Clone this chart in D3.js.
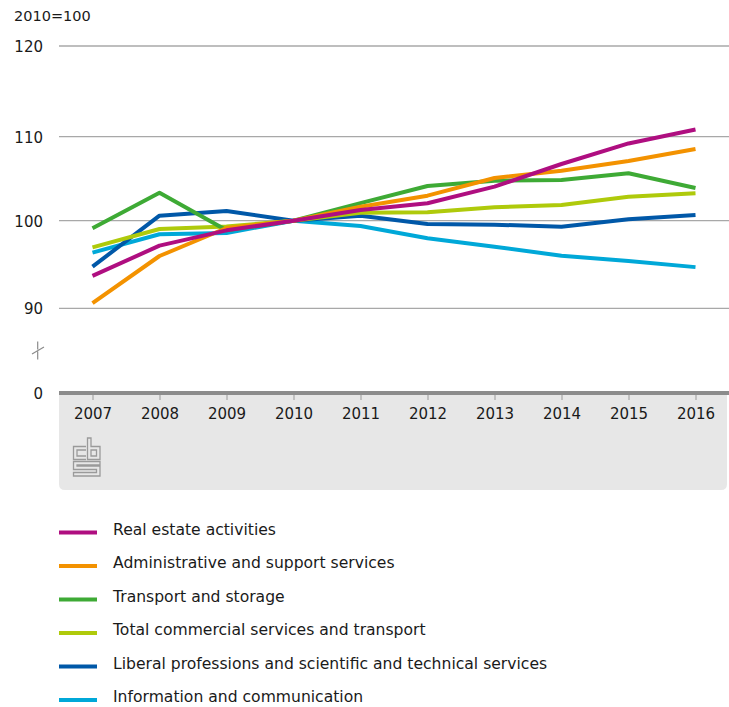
<!DOCTYPE html>
<html lang="en">
<head>
<meta charset="utf-8">
<title>Index 2010=100</title>
<script src="https://d3js.org/d3.v7.min.js"></script>
<style>
  body { margin: 0; background: #fff; }
  text { font-family: 'DejaVu Sans', sans-serif; fill: #1a1a1a; }
</style>
</head>
<body>
<script>
// years on the x axis
var years = ["2007", "2008", "2009", "2010", "2011", "2012", "2013", "2014", "2015", "2016"];
var yTicks = [0, 90, 100, 110, 120];

var seriesNames = [
  "Real estate activities",
  "Administrative and support services",
  "Transport and storage",
  "Total commercial services and transport",
  "Liberal professions and scientific and technical services",
  "Information and communication"
];
var seriesColors = ["#af0e80", "#f39200", "#3eaa35", "#afca0b", "#0058a8", "#00a8d8"];

var realEstate = [93.7, 97.15, 98.9, 100, 101.27, 102.07, 104.05, 106.75, 109.2, 110.8];
var adminSupport = [90.6, 95.97, 99.17, 100, 101.67, 102.98, 105.08, 105.95, 107.1, 108.54];
var transport = [99.13, 103.33, 98.9, 100, 102.1, 104.13, 104.76, 104.85, 105.64, 103.9];
var totalCommercial = [96.96, 99.05, 99.35, 100, 100.95, 101.0, 101.6, 101.87, 102.86, 103.26];
var liberalProf = [94.75, 100.6, 101.15, 100, 100.6, 99.62, 99.54, 99.32, 100.17, 100.68];
var infoComm = [96.35, 98.45, 98.6, 100, 99.4, 97.99, 97.03, 96.0, 95.4, 94.7];

var allSeries = [realEstate, adminSupport, transport, totalCommercial, liberalProf, infoComm];

var w = 729, h = 707;
var left = 59, right = 729;

var svg = d3.select("body").append("svg")
  .attr("width", w)
  .attr("height", h);

var x = d3.scalePoint()
  .domain(years)
  .range([left, right])
  .padding(0.5);

// broken axis: 0 sits just below 90
var y = d3.scaleLinear()
  .domain([0, 90, 100, 110, 120])
  .range([393, 308.3, 220.7, 136.7, 46]);

// grey panel under the x axis
svg.append("path")
  .attr("d", "M" + left + ",393 H" + (right - 2) + " V484 q0,6 -6,6 H" + (left + 6) + " q-6,0 -6,-6 Z")
  .attr("fill", "#e7e7e7");

// gridlines
svg.append("g")
  .selectAll("line")
  .data(yTicks.filter(function(d) { return d > 0; }))
  .join("line")
  .attr("x1", left)
  .attr("x2", right)
  .attr("y1", function(d) { return y(d); })
  .attr("y2", function(d) { return y(d); })
  .attr("stroke", "#a8a8a8")
  .attr("stroke-width", 1.3);

// y labels
svg.append("g")
  .selectAll("text")
  .data(yTicks)
  .join("text")
  .attr("x", 43)
  .attr("y", function(d) { return y(d) + 6; })
  .attr("text-anchor", "end")
  .attr("font-size", "15px")
  .text(function(d) { return d; });

svg.append("text")
  .attr("x", 14)
  .attr("y", 21)
  .attr("font-size", "14.5px")
  .text("2010=100");

// axis break mark
svg.append("path")
  .attr("d", "M37.7,341.5 V349.5 M32,354 L44,347 M37.7,351.5 V359.5")
  .attr("stroke", "#8c8c8c")
  .attr("stroke-width", 1.2)
  .attr("fill", "none");

// x axis
var xAxis = d3.axisBottom(x).tickSize(7).tickPadding(8);
var gx = svg.append("g")
  .attr("transform", "translate(0,393)")
  .call(xAxis);
gx.select(".domain").remove();
gx.selectAll(".tick line").attr("stroke", "#999").attr("stroke-width", 1);
gx.selectAll(".tick text")
  .attr("font-size", "15px")
  .attr("font-family", "'DejaVu Sans', sans-serif")
  .attr("fill", "#1a1a1a");

svg.append("line")
  .attr("x1", left)
  .attr("x2", right)
  .attr("y1", y(0))
  .attr("y2", y(0))
  .attr("stroke", "#8c8c8c")
  .attr("stroke-width", 4);

// logo
var logo = svg.append("g")
  .attr("fill", "none")
  .attr("stroke", "#9a9a9a")
  .attr("stroke-width", 1.3);
logo.append("path").attr("d", "M86,446.5 H73.5 V459.5 H86 M86,450 H77 V456 H86");
logo.append("path").attr("d", "M87.5,438 V459.5 H100 V446.5 H91 V438 Z M91,450 H96.5 V456 H91 Z");
logo.append("path").attr("d", "M100,461.5 H73.5 V469.5 H96.5 V472.5 H73.5 V476 H100 V466 H77 V465 H100 Z");

// lines
var line = d3.line()
  .x(function(d, i) { return x(years[i]); })
  .y(function(d) { return y(d); });

svg.append("g")
  .selectAll("path")
  .data(allSeries.slice().reverse())
  .join("path")
  .attr("d", line)
  .attr("fill", "none")
  .attr("stroke", function(d, i) { return seriesColors[allSeries.length - 1 - i]; })
  .attr("stroke-width", 4)
  .attr("stroke-linejoin", "round");

// legend
var legend = svg.append("g")
  .selectAll("g")
  .data(seriesNames)
  .join("g")
  .attr("transform", function(d, i) { return "translate(0," + (532.5 + i * 33.5) + ")"; });

legend.append("line")
  .attr("x1", 59)
  .attr("x2", 97)
  .attr("stroke", function(d, i) { return seriesColors[i]; })
  .attr("stroke-width", 4);

legend.append("text")
  .attr("x", 113)
  .attr("y", 2)
  .attr("font-size", "15.6px")
  .text(function(d) { return d; });
</script>
</body>
</html>
